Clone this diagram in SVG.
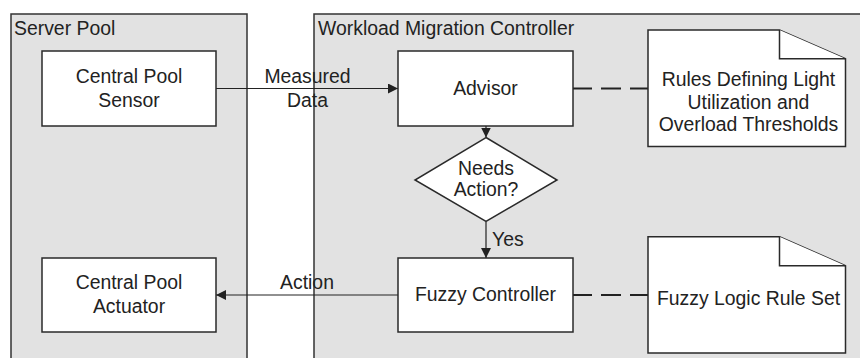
<svg xmlns="http://www.w3.org/2000/svg" width="860" height="358" viewBox="0 0 860 358">
  <defs>
    <style>
      .lane { fill: #e2e2e2; stroke: #333; stroke-width: 1.5; }
      .box { fill: #fff; stroke: #2a2a2a; stroke-width: 1.5; }
      .txt { font-family: "Liberation Sans", Arial, sans-serif; font-size: 19.4px; fill: #222; }
      .mid { text-anchor: middle; }
      .flow { fill: none; stroke: #222; stroke-width: 1.2; }
      .assoc { fill: none; stroke: #222; stroke-width: 2.2; stroke-dasharray: 20 9; }
    </style>
    <marker id="arrow" viewBox="0 0 10 10" refX="10" refY="5" markerWidth="10" markerHeight="10" markerUnits="userSpaceOnUse" orient="auto">
      <path d="M0,0 L10,5 L0,10 Z" fill="#222"/>
    </marker>
  </defs>

  <!-- swimlanes -->
  <g id="server-pool">
    <rect class="lane" x="11" y="14" width="236" height="360"/>
    <text class="txt" x="14" y="34.5">Server Pool</text>
  </g>
  <g id="workload-migration-controller">
    <rect class="lane" x="314" y="14" width="560" height="360"/>
    <text class="txt" x="318" y="34.5">Workload Migration Controller</text>
  </g>

  <!-- connectors -->
  <g id="connectors">
    <line class="flow" x1="216" y1="88.5" x2="398" y2="88.5" marker-end="url(#arrow)"/>
    <text class="txt mid" x="307.5" y="82.5">Measured</text>
    <text class="txt mid" x="307.5" y="106.5">Data</text>

    <line class="flow" x1="486" y1="126" x2="486" y2="137.5" marker-end="url(#arrow)"/>

    <line class="flow" x1="486" y1="221.5" x2="486" y2="258" marker-end="url(#arrow)"/>
    <text class="txt" x="492" y="246">Yes</text>

    <line class="flow" x1="398" y1="295" x2="216" y2="295" marker-end="url(#arrow)"/>
    <text class="txt mid" x="307" y="288.5">Action</text>

    <line class="assoc" x1="572" y1="88.5" x2="648" y2="88.5"/>
    <line class="assoc" x1="572" y1="295" x2="648" y2="295"/>
  </g>

  <!-- nodes -->
  <g id="central-pool-sensor">
    <rect class="box" x="42" y="51" width="174" height="75"/>
    <text class="txt mid" x="129" y="83">Central Pool</text>
    <text class="txt mid" x="129" y="106.5">Sensor</text>
  </g>
  <g id="central-pool-actuator">
    <rect class="box" x="42" y="258" width="174" height="74"/>
    <text class="txt mid" x="129" y="289">Central Pool</text>
    <text class="txt mid" x="129" y="312.5">Actuator</text>
  </g>
  <g id="advisor">
    <rect class="box" x="398" y="51" width="175" height="75"/>
    <text class="txt mid" x="485.5" y="95.3">Advisor</text>
  </g>
  <g id="needs-action">
    <polygon class="box" points="486,137.5 557,180 486,221.5 415,180"/>
    <text class="txt mid" x="486" y="174.5">Needs</text>
    <text class="txt mid" x="486" y="196">Action?</text>
  </g>
  <g id="fuzzy-controller">
    <rect class="box" x="398" y="258" width="175" height="74"/>
    <text class="txt mid" x="485.5" y="301">Fuzzy Controller</text>
  </g>
  <g id="threshold-rules">
    <path class="box" d="M648,30 H779.5 L845.5,58.7 V146.5 H648 Z"/>
    <path class="box" d="M779.5,30 V58.7 H845.5"/>
    <text class="txt mid" x="748.5" y="86">Rules Defining Light</text>
    <text class="txt mid" x="748.5" y="108.5">Utilization and</text>
    <text class="txt mid" x="748.5" y="131">Overload Thresholds</text>
  </g>
  <g id="fuzzy-rule-set">
    <path class="box" d="M648,236.7 H779.5 L845.5,265.7 V353 H648 Z"/>
    <path class="box" d="M779.5,236.7 V265.7 H845.5"/>
    <text class="txt mid" x="748.5" y="305">Fuzzy Logic Rule Set</text>
  </g>
</svg>
